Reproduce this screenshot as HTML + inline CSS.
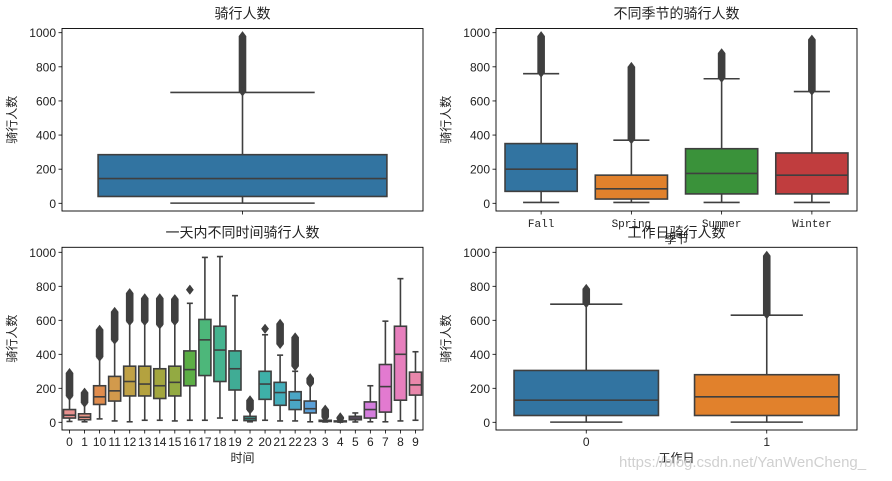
<!DOCTYPE html>
<html><head><meta charset="utf-8">
<style>
body{margin:0;background:#fff;}
svg{display:block;font-family:"Liberation Sans","Noto Sans CJK SC",sans-serif;}
.tk{font-size:12px;fill:#222;}
.ttl{font-size:14px;fill:#222;}
.mono{font-family:"Liberation Mono","Noto Sans CJK SC",monospace;font-size:11px;fill:#222;}
</style></head>
<body>
<svg id="chart" width="892" height="481" viewBox="0 0 892 481"></svg>
<script>
// ---- data: [whiskerLow, q1, median, q3, whiskerHigh] and outlier range [firstOutlier, maxOutlier]
const overallCats = [""];
const overallStats = [[1,40,145,285,650]];
const overallOut = [[655,980]];

const seasonCats = ["Fall","Spring","Summer","Winter"];
const seasonStats = [[5,70,200,350,760],[5,25,85,165,370],[5,55,175,320,730],[5,55,165,295,655]];
const seasonOut = [[765,980],[375,800],[735,880],[660,960]];

const hourCats = ["0","1","10","11","12","13","14","15","16","17","18","19","2","20","21","22","23","3","4","5","6","7","8","9"];
const hourStats = [[5,25,42,75,150],[3,15,30,50,110],[20,105,150,215,380],[8,125,185,270,480],[3,155,240,330,590],[12,155,225,330,590],[12,140,215,315,570],[8,155,235,330,590],[12,215,310,420,700],[12,275,485,605,970],[25,240,425,565,975],[12,190,315,420,745],[3,10,22,35,70],[12,135,225,300,515],[8,100,175,235,395],[8,75,130,180,300],[3,55,80,125,225],[2,5,8,12,25],[1,3,5,8,15],[2,15,25,35,55],[3,25,75,120,215],[3,60,210,340,595],[8,130,400,565,845],[12,160,220,295,415]];
const hourOut = [[155,290],[115,175],[385,545],[485,650],[595,760],[595,730],[575,730],[595,725],[780,780],null,null,null,[75,130],[550,550],[460,580],[330,500],[230,260],[30,75],[20,30],null,null,null,null,null];

const workCats = ["0","1"];
const workStats = [[1,40,130,305,695],[1,40,150,280,630]];
const workOut = [[700,785],[635,980]];

const hourColors = ["#e8918f","#e79586","#e08c4d","#d29a4c","#c0a146","#b4a23f","#a3a63f","#93aa42","#5cae45","#4db77a","#45b38f","#40ac95","#3aab9c","#3eb0a8","#44aebb","#4aa6c5","#5aa0d8","#7b9be0","#9f8fe0","#bb84de","#d47ddd","#e27ad0","#e77fbd","#e987ab"];
const seasonColors = ["#3274a1","#e1812c","#3a923a","#c03d3e"];

const NS="http://www.w3.org/2000/svg";
const svg=document.getElementById("chart");
function mk(tag,attrs,parent){const e=document.createElementNS(NS,tag);for(const k in attrs)e.setAttribute(k,attrs[k]);(parent||svg).appendChild(e);return e;}
function txt(x,y,s,cls,anchor,parent,rot){const t=mk("text",{x:x,y:y,class:cls,"text-anchor":anchor||"middle"},parent);if(rot)t.setAttribute("transform","rotate(-90 "+x+" "+y+")");t.textContent=s;return t;}

function panel(name,ax,cats,stats,outs,colors,title,xlabel,labelCls){
  const g=mk("g",{});
  
  
  const yS=v=>ax.y0-(v/1000)*(ax.y0-ax.y1000);
  const bw=(ax.r-ax.l)/cats.length;
  const xS=i=>ax.l+bw*(i+0.5);
  [0,200,400,600,800,1000].forEach(v=>{
    const y=yS(v);
    mk("line",{x1:ax.l-3.5,x2:ax.l,y1:y,y2:y,stroke:"#000","stroke-width":0.8},g);
    const t=txt(ax.l-6,y+4.5,String(v),"tk","end",g);
    
    
  });
  stats.forEach((s,i)=>{
    const cx=xS(i), w=bw*0.8, c=colors[i%colors.length];
    const b=mk("g",{},g);
    
    
    const st={stroke:"#3f3f3f","stroke-width":1.6,fill:"none"};
    mk("line",Object.assign({x1:cx,x2:cx,y1:yS(s[0]),y2:yS(s[1])},st),b);
    mk("line",Object.assign({x1:cx,x2:cx,y1:yS(s[3]),y2:yS(s[4])},st),b);
    mk("line",Object.assign({x1:cx-w/4,x2:cx+w/4,y1:yS(s[0]),y2:yS(s[0])},st),b);
    mk("line",Object.assign({x1:cx-w/4,x2:cx+w/4,y1:yS(s[4]),y2:yS(s[4])},st),b);
    mk("rect",{x:cx-w/2,y:yS(s[3]),width:w,height:yS(s[1])-yS(s[3]),fill:c,stroke:"#3f3f3f","stroke-width":1.6},b);
    mk("line",Object.assign({x1:cx-w/2,x2:cx+w/2,y1:yS(s[2]),y2:yS(s[2])},st),b);
    const o=outs[i];
    if(o){
      const d=3.8;
      const a=yS(o[0]), z=yS(o[1]);
      if(a-z>1) mk("rect",{x:cx-d,y:z,width:d*2,height:a-z,fill:"#3f3f3f"},b);
      [a,z].forEach(y=>mk("polygon",{points:`${cx},${y-d*1.3} ${cx+d},${y} ${cx},${y+d*1.3} ${cx-d},${y}`,fill:"#3f3f3f"},b));
    }
    mk("line",{x1:cx,x2:cx,y1:ax.b,y2:ax.b+3.5,stroke:"#000","stroke-width":0.8},g);
    if(cats[i]!==""){
      const t=txt(cx,ax.b+16,cats[i],labelCls,"middle",g);
      
      
    }
  });
  mk("rect",{x:ax.l,y:ax.t,width:ax.r-ax.l,height:ax.b-ax.t,fill:"none",stroke:"#000","stroke-width":0.9},g);
  const yl=txt(ax.l-46,(ax.t+ax.b)/2,"骑行人数","tk","middle",g,true);
  
  
  const tt=txt((ax.l+ax.r)/2,ax.t-10,title,"ttl","middle",g);
  
  
  if(xlabel){
    const xl=txt((ax.l+ax.r)/2,ax.b+32,xlabel,"tk","middle",g);
    
    
  }
}
panel("overall-panel",{l:62,r:423,t:28.5,b:211,y0:203.3,y1000:32.7},overallCats,overallStats,overallOut,["#3274a1"],"骑行人数","", "tk");
panel("season-panel",{l:496,r:857,t:28.5,b:211,y0:203.3,y1000:32.7},seasonCats,seasonStats,seasonOut,seasonColors,"不同季节的骑行人数","季节","mono");
panel("hour-panel",{l:62,r:423,t:247.3,b:430,y0:422.3,y1000:252.3},hourCats,hourStats,hourOut,hourColors,"一天内不同时间骑行人数","时间","tk");
panel("workday-panel",{l:496,r:857,t:247.3,b:430,y0:422.3,y1000:252.3},workCats,workStats,workOut,seasonColors,"工作日骑行人数","工作日","tk");
const wm=txt(619,467,"https://blog.csdn.net/YanWenCheng_","tk","start");
wm.setAttribute("style","font-size:15px;fill:#d0d0d0;");


</script>
</body></html>
